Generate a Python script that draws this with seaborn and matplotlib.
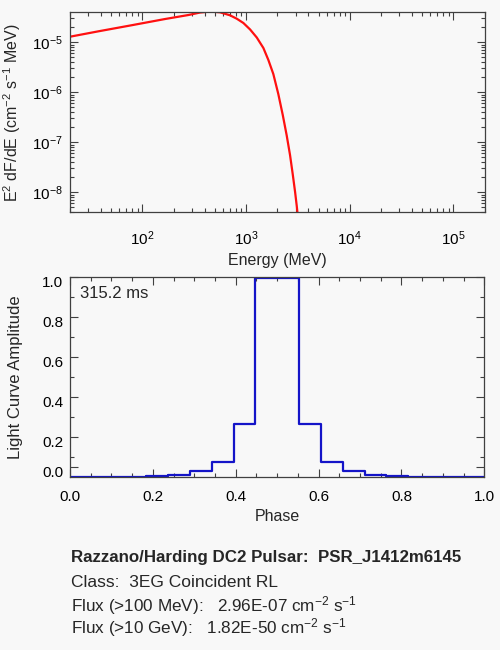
import matplotlib
matplotlib.use("Agg")
import matplotlib.pyplot as plt
import matplotlib.transforms as mtransforms
import seaborn as sns
import pandas as pd
from matplotlib.ticker import (LogLocator, NullFormatter, MultipleLocator,
                               FixedLocator, FixedFormatter, FormatStrFormatter)

# ---------------- data ----------------
energy_mev = [20, 37.7, 79.1, 165.6, 278, 359.7, 449.8, 561, 699.8, 812.8,
              941.9, 1094, 1268, 1469, 1641, 1832, 2046, 2259, 2466, 2655,
              2818, 2972, 3083, 3148]
e2dfde = [1.294e-5, 1.660e-5, 2.198e-5, 2.924e-5, 3.516e-5, 3.94e-5,
          4.12e-5, 3.98e-5, 3.467e-5, 2.965e-5, 2.432e-5, 1.803e-5,
          1.247e-5, 7.69e-6, 4.43e-6, 2.32e-6, 9.25e-7, 3.52e-7, 1.37e-7,
          5.57e-8, 2.32e-8, 1.01e-8, 5.32e-9, 3.52e-9]

phase_edges = [0.0, 0.026, 0.079, 0.132, 0.184, 0.237, 0.289, 0.342, 0.395,
               0.447, 0.553, 0.605, 0.658, 0.711, 0.763, 0.816, 0.868, 0.921,
               0.974, 1.0]
amplitude = [0.001, 0.001, 0.001, 0.002, 0.005, 0.013, 0.030, 0.075, 0.268,
             0.995, 0.268, 0.075, 0.030, 0.013, 0.005, 0.002, 0.001, 0.001,
             0.001]

yticks_lc = [0.05, 0.2, 0.4, 0.6, 0.8, 1.0]
yticklabels_lc = ["0.0", "0.2", "0.4", "0.6", "0.8", "1.0"]

period_text = "315.2 ms"
info_title = "Razzano/Harding DC2 Pulsar:  PSR_J1412m6145"
info_class = "Class:  3EG Coincident RL"
info_flux1 = r"Flux (>100 MeV):   2.96E-07 cm$^{-2}$ s$^{-1}$"
info_flux2 = r"Flux (>10 GeV):   1.82E-50 cm$^{-2}$ s$^{-1}$"

# ---------------- style ----------------
BG = "#f8f8f8"
sns.set_theme(style="ticks")
plt.rcParams["font.family"] = ["Liberation Sans", "DejaVu Sans"]
plt.rcParams["mathtext.fontset"] = "custom"
plt.rcParams["mathtext.rm"] = "Liberation Sans"
plt.rcParams["mathtext.it"] = "Liberation Sans:italic"
plt.rcParams["mathtext.bf"] = "Liberation Sans:bold"
plt.rcParams["axes.edgecolor"] = "#404040"
plt.rcParams["axes.linewidth"] = 0.9

fig = plt.figure(figsize=(5, 6.5), dpi=100, facecolor=BG)
ax1 = fig.add_axes([70 / 500, 1 - 212.3 / 650, 415 / 500, 200 / 650])
ax2 = fig.add_axes([70 / 500, 1 - 477.3 / 650, 414.3 / 500, 200 / 650])
for ax in (ax1, ax2):
    ax.set_facecolor(BG)

# ---------------- spectrum ----------------
ax1.set_xscale("log")
ax1.set_yscale("log")
df_spec = pd.DataFrame({"E": energy_mev, "F": e2dfde})
sns.lineplot(data=df_spec, x="E", y="F", ax=ax1, color="#ff1010",
             linewidth=1.6, estimator=None, sort=False)
ax1.set_xlim(20, 2.02e5)
ax1.set_ylim(10 ** -8.4, 10 ** -4.4)
ax1.xaxis.set_major_locator(LogLocator(base=10, numticks=12))
ax1.xaxis.set_minor_locator(LogLocator(base=10, subs=range(2, 10), numticks=12))
ax1.yaxis.set_major_locator(LogLocator(base=10, numticks=12))
ax1.yaxis.set_minor_locator(LogLocator(base=10, subs=range(2, 10), numticks=12))
ax1.xaxis.set_minor_formatter(NullFormatter())
ax1.yaxis.set_minor_formatter(NullFormatter())
ax1.set_xlabel("Energy (MeV)", fontsize=11.5, labelpad=4)
ax1.set_ylabel(r"E$^2$ dF/dE (cm$^{-2}$ s$^{-1}$ MeV)", fontsize=11.5)
ax1.yaxis.set_label_coords(-0.113, 0.5)
ax1.tick_params(axis="x", which="major", pad=12)
ax1.tick_params(axis="y", which="major", pad=5.5)

# ---------------- light curve ----------------
df_lc = pd.DataFrame({"phase": phase_edges,
                      "amp": amplitude + [amplitude[-1]]})
sns.lineplot(data=df_lc, x="phase", y="amp", ax=ax2, color="#1414c8",
             linewidth=1.6, drawstyle="steps-post", estimator=None, sort=False)
ax2.set_xlim(0, 1)
ax2.set_ylim(0, 1.0)
ax2.xaxis.set_major_locator(MultipleLocator(0.2))
ax2.xaxis.set_minor_locator(MultipleLocator(0.05))
ax2.xaxis.set_major_formatter(FormatStrFormatter("%.1f"))
ax2.yaxis.set_major_locator(FixedLocator(yticks_lc))
ax2.yaxis.set_major_formatter(FixedFormatter(yticklabels_lc))
ax2.yaxis.set_minor_locator(FixedLocator([0.1, 0.3, 0.5, 0.7, 0.9]))
ax2.set_xlabel("Phase", fontsize=11.5, labelpad=4)
ax2.set_ylabel("Light Curve Amplitude", fontsize=12)
ax2.yaxis.set_label_coords(-0.1135, 0.5)
ax2.tick_params(axis="x", which="major", pad=9)
ax2.tick_params(axis="y", which="major", pad=5)
ax2.text(0.024, 0.92, period_text, transform=ax2.transAxes, fontsize=12,
         ha="left", va="center")

for ax in (ax1, ax2):
    ax.tick_params(which="both", direction="in", top=True, right=True,
                   color="#404040", labelsize=11, labelcolor="black")
    ax.tick_params(which="major", length=5.5, width=0.8)
    ax.tick_params(which="minor", length=3, width=0.8)
    for s in ax.spines.values():
        s.set_visible(True)

# shift light-curve y tick labels slightly down, as in the reference
shift = mtransforms.ScaledTranslation(0, -4.5 / 100, fig.dpi_scale_trans)
for lab in ax2.get_yticklabels():
    lab.set_transform(lab.get_transform() + shift)

# ---------------- info block ----------------
x0 = 70.7 / 500
fig.text(x0, 1 - 561.7 / 650, info_title, fontsize=12.2, fontweight="bold",
         ha="left", va="baseline")
fig.text(x0, 1 - 587.3 / 650, info_class, fontsize=12.5, ha="left", va="baseline")
fig.text(x0, 1 - 611.7 / 650, info_flux1, fontsize=12.3, ha="left", va="baseline")
fig.text(x0, 1 - 633.3 / 650, info_flux2, fontsize=12.3, ha="left", va="baseline")

fig.savefig("out.png", dpi=100, facecolor=BG)
